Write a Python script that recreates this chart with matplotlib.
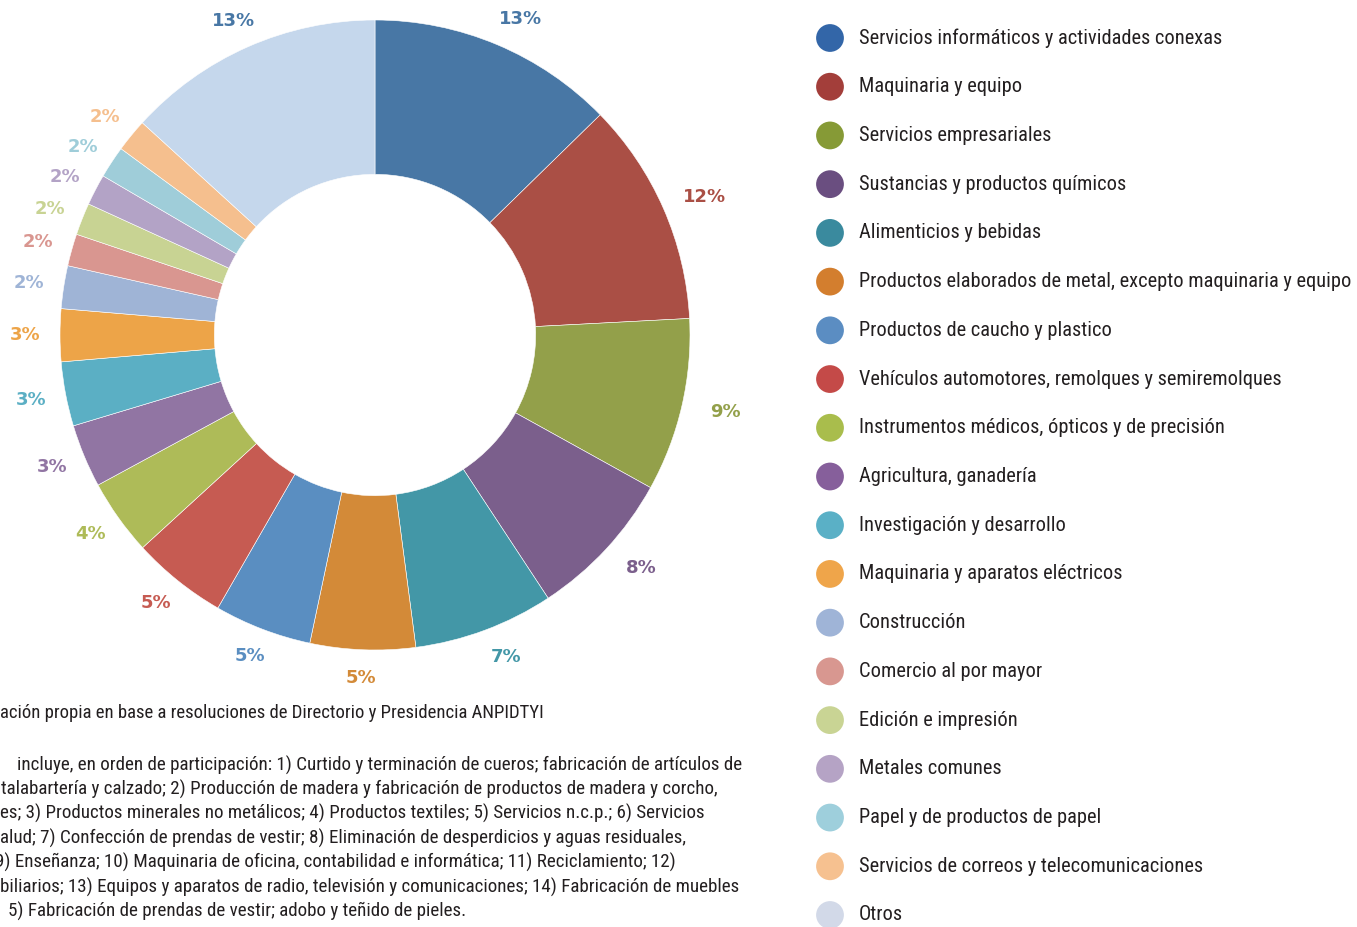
import matplotlib
matplotlib.use("Agg")
import matplotlib.pyplot as plt
from matplotlib import font_manager as fm
import numpy as np

# shares, labels as printed on the chart
sectors = [
    "Servicios informáticos y actividades conexas",
    "Maquinaria y equipo",
    "Servicios empresariales",
    "Sustancias y productos químicos",
    "Alimenticios y bebidas",
    "Productos elaborados de metal, excepto maquinaria y equipo",
    "Productos de caucho y plastico",
    "Vehículos automotores, remolques y semiremolques",
    "Instrumentos médicos, ópticos y de precisión",
    "Agricultura, ganadería",
    "Investigación y desarrollo",
    "Maquinaria y aparatos eléctricos",
    "Construcción",
    "Comercio al por mayor",
    "Edición e impresión",
    "Metales comunes",
    "Papel y de productos de papel",
    "Servicios de correos y telecomunicaciones",
    "Otros",
]
shares = [12.7, 11.5, 8.9, 7.7, 7.2, 5.4, 5.0, 4.9, 3.9, 3.25, 3.3, 2.7,
          2.2, 1.65, 1.65, 1.6, 1.65, 1.7, 13.25]
pct_labels = ["13%", "12%", "9%", "8%", "7%", "5%", "5%", "5%", "4%", "3%",
              "3%", "3%", "2%", "2%", "2%", "2%", "2%", "2%", "13%"]

slice_colors = ["#4877a5", "#aa4f45", "#93a04a", "#7b5f8c", "#4397a7",
                "#d38a38", "#5a8ec1", "#c65b52", "#aebb58", "#9175a3",
                "#5bafc4", "#eda448", "#9fb4d6", "#d99690", "#c8d393",
                "#b3a3c6", "#9fcdd9", "#f5bf8e", "#c5d7ec"]
legend_colors = ["#3366a8", "#a33e3a", "#869a36", "#6a4e80", "#3a8a9e",
                 "#d37e2e", "#5b8dc2", "#c44a48", "#a9bd4c", "#865f9b",
                 "#5ab0c6", "#efa54a", "#9fb4d7", "#d89790", "#c9d494",
                 "#b5a3c5", "#9ecfdc", "#f6c190", "#d2d9e8"]
label_colors = slice_colors[:-1] + [slice_colors[0]]

source = "ación propia en base a resoluciones de Directorio y Presidencia ANPIDTYI"
note_lines = [
    "incluye, en orden de participación: 1) Curtido y terminación de cueros; fabricación de artículos de",
    "talabartería y calzado; 2) Producción de madera y fabricación de productos de madera y corcho,",
    "es; 3) Productos minerales no metálicos; 4) Productos textiles; 5) Servicios n.c.p.; 6) Servicios",
    "alud; 7) Confección de prendas de vestir; 8) Eliminación de desperdicios y aguas residuales,",
    "9) Enseñanza; 10) Maquinaria de oficina, contabilidad e informática; 11) Reciclamiento; 12)",
    "biliarios; 13) Equipos y aparatos de radio, televisión y comunicaciones; 14) Fabricación de muebles",
    "5) Fabricación de prendas de vestir; adobo y teñido de pieles.",
]
note_x = [17, 1, 0, 0, -5, 0, 8]

names = {f.name for f in fm.fontManager.ttflist}
narrow = next((n for n in ["Liberation Sans Narrow", "Roboto Condensed",
                           "Open Sans Condensed", "DejaVu Sans"] if n in names))

W, H = 1357, 927
fig = plt.figure(figsize=(W / 100, H / 100), dpi=100)

cx, cy, R = 375, 335, 315
span = 1.25 * R
ax = fig.add_axes([(cx - span) / W, 1 - (cy + span) / H, 2 * span / W, 2 * span / H])
wedges, _ = ax.pie(shares, radius=1, startangle=90, counterclock=False,
                   colors=slice_colors,
                   wedgeprops=dict(width=0.49, edgecolor="white", linewidth=0.4))
ax.set_xlim(-1.25, 1.25)
ax.set_ylim(-1.25, 1.25)
ax.set_aspect("equal")
ax.axis("off")

for w, lab, col in zip(wedges, pct_labels, label_colors):
    mid = np.deg2rad((w.theta1 + w.theta2) / 2)
    x = 1.11 * np.cos(mid)
    if x > 0.05:
        x += 0.03
    ax.text(x, 1.09 * np.sin(mid), lab, ha="center", va="center",
            fontsize=13, fontweight="bold", color=col, family="DejaVu Sans")

# overlay in pixel coordinates for legend and notes
ov = fig.add_axes([0, 0, 1, 1])
ov.set_xlim(0, W)
ov.set_ylim(H, 0)
ov.axis("off")

ys = np.linspace(38, 915, len(sectors))
ov.scatter([830] * len(sectors), ys, s=400, c=legend_colors, linewidths=0)
for y, name in zip(ys, sectors):
    ov.text(859, y, name, ha="left", va="center", fontsize=14.7, color="#231f20",
            family=narrow)

ov.text(0, 713, source, ha="left", va="center", fontsize=13.5, color="#231f20",
        family=narrow)
for i, (line, x) in enumerate(zip(note_lines, note_x)):
    ov.text(x, 765 + i * 24.4, line, ha="left", va="center", fontsize=13.7,
            color="#231f20", family=narrow)

fig.savefig("out.png", dpi=100)
